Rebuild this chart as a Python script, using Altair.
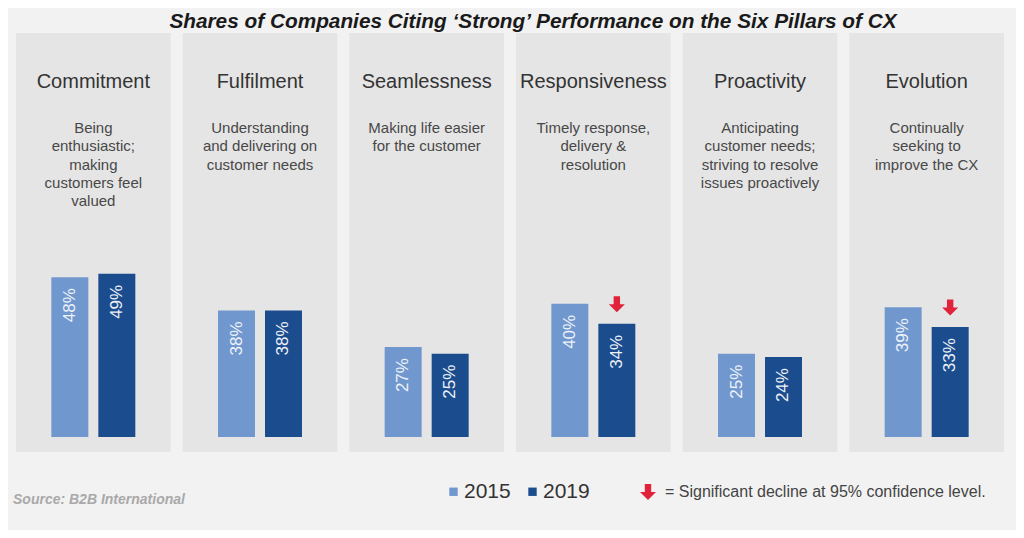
import altair as alt
import pandas as pd

pillars = ["Commitment", "Fulfilment", "Seamlessness", "Responsiveness", "Proactivity", "Evolution"]
descriptions = [
    "Being\nenthusiastic;\nmaking\ncustomers feel\nvalued",
    "Understanding\nand delivering on\ncustomer needs",
    "Making life easier\nfor the customer",
    "Timely response,\ndelivery &\nresolution",
    "Anticipating\ncustomer needs;\nstriving to resolve\nissues proactively",
    "Continually\nseeking to\nimprove the CX",
]
years = ["2015", "2019"]
v2015 = [48, 38, 27, 40, 25, 39]
v2019 = [49, 38, 25, 34, 24, 33]
decline_2019 = [False, False, False, True, False, True]

title_text = "Shares of Companies Citing \u2018Strong\u2019 Performance on the Six Pillars of CX"
source_text = "Source: B2B International"
note_text = "= Significant decline at 95% confidence level."

LIGHT = "#7098cf"
DARK = "#1b4c8e"
RED = "#e0233b"
FONT = "Liberation Sans"

rows = []
for i, p in enumerate(pillars):
    for y, vals in zip(years, [v2015, v2019]):
        rows.append({"pillar": p, "year": y, "value": vals[i], "label": f"{vals[i]}%",
                     "decline": (y == "2019" and decline_2019[i])})
bars_df = pd.DataFrame(rows)
panels_df = pd.DataFrame({"pillar": pillars, "desc": descriptions})

x_enc = alt.X("pillar:N", sort=pillars, axis=None,
              scale=alt.Scale(range=[8, 996], paddingInner=0.072, paddingOuter=0))
xoff = alt.XOffset("year:N", sort=years,
                   scale=alt.Scale(paddingInner=0.213, paddingOuter=0.752))
y_enc = alt.Y("value:Q", axis=None, scale=alt.Scale(domain=[0, 100], range=[429, 96]))

panels = alt.Chart(panels_df).mark_rect(color="#e5e5e5").encode(
    x=x_enc, y=alt.value(25), y2=alt.value(444))

ptitles = alt.Chart(panels_df).mark_text(
    font=FONT, fontSize=20, color="#333333", baseline="middle").encode(
    x=x_enc, y=alt.value(74), text="pillar:N")

pdesc = alt.Chart(panels_df).mark_text(
    font=FONT, fontSize=15, color="#484848", baseline="middle",
    lineBreak="\n", lineHeight=18.3).encode(
    x=x_enc, y=alt.value(120), text="desc:N")

bars = alt.Chart(bars_df).mark_bar().encode(
    x=x_enc, xOffset=xoff, y=y_enc,
    color=alt.Color("year:N", sort=years,
                    scale=alt.Scale(domain=years, range=[LIGHT, DARK]),
                    legend=alt.Legend(title=None, orient="none", legendX=435, legendY=473,
                                      direction="horizontal", symbolType="square",
                                      symbolSize=70, symbolStrokeWidth=0,
                                      labelFont=FONT, labelFontSize=21, labelColor="#333333",
                                      labelOffset=0, columnPadding=11, padding=0)))

labels = alt.Chart(bars_df).mark_text(
    font=FONT, fontSize=17, color="#eef2f8", angle=270, align="right",
    baseline="middle", dx=-11).encode(
    x=x_enc, xOffset=xoff, y=y_enc, text="label:N")

arrow_shifted = "M-0.4,-3.45 L0.4,-3.45 L0.4,-2.45 L1,-2.45 L0,-1.45 L-1,-2.45 L-0.4,-2.45 Z"
arrows = alt.Chart(bars_df).transform_filter("datum.decline").mark_point(
    shape=arrow_shifted, filled=True, color=RED, size=256, opacity=1, strokeWidth=0).encode(
    x=x_enc, xOffset=xoff, y=y_enc)

title = alt.Chart(pd.DataFrame({"t": [title_text]})).mark_text(
    font=FONT, fontSize=20.8, fontWeight="bold", fontStyle="italic",
    color="#1a1a1a", baseline="alphabetic", align="center").encode(
    x=alt.value(525), y=alt.value(20), text="t:N")

source = alt.Chart(pd.DataFrame({"t": [source_text]})).mark_text(
    font=FONT, fontSize=14, fontWeight="bold", fontStyle="italic",
    color="#a9a9a9", baseline="middle", align="left").encode(
    x=alt.value(5), y=alt.value(492), text="t:N")

note = alt.Chart(pd.DataFrame({"t": [note_text]})).mark_text(
    font=FONT, fontSize=16, color="#444444", baseline="middle", align="left").encode(
    x=alt.value(657), y=alt.value(484), text="t:N")

arrow_centered = "M-0.4,-1 L0.4,-1 L0.4,0 L1,0 L0,1 L-1,0 L-0.4,0 Z"
note_arrow = alt.Chart(pd.DataFrame({"t": ["arrow"]})).mark_point(
    shape=arrow_centered, filled=True, color=RED, size=256, opacity=1, strokeWidth=0).encode(
    x=alt.value(640), y=alt.value(484))

chart = alt.layer(panels, ptitles, pdesc, bars, labels, arrows, title, source, note, note_arrow).properties(
    width=1008, height=522,
    autosize=alt.AutoSizeParams(type="none"),
    padding=0,
    background="#f2f2f2",
).configure_view(stroke=None)

chart.save("out.html", embed_options={"renderer": "svg", "actions": False})
